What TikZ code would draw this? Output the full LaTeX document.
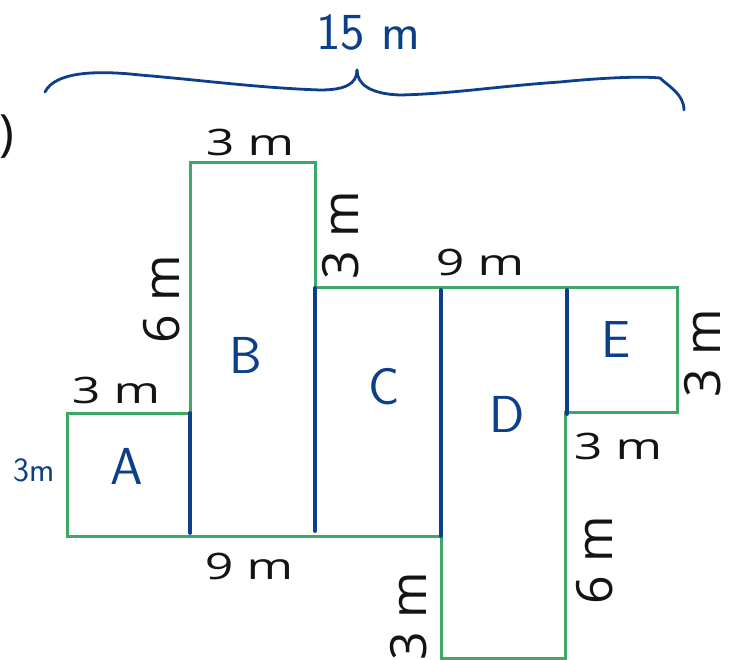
\documentclass[tikz,border=0pt]{standalone}
\usepackage{fontspec}
\setmainfont{Open Sans}
\definecolor{fgreen}{HTML}{3DA868}
\definecolor{hblue}{HTML}{0B3F8A}
\begin{document}
\begin{tikzpicture}[x=1pt,y=-1pt,
  lab/.style={font=\fontsize{50}{50}\selectfont, text=black!92, inner sep=0pt},
  hand/.style={font=\sffamily\fontsize{52}{52}\selectfont, text=hblue, inner sep=0pt},
  outline/.style={draw=fgreen, line width=3pt, line join=miter},
  split/.style={draw=hblue, line width=3.8pt, line cap=round},
  brace/.style={draw=hblue, line width=2.8pt, line cap=round, line join=round}]
\useasboundingbox (0,0) rectangle (731,660);
% corners of the outline
\coordinate (p1) at (67,413);
\coordinate (p2) at (190,413);
\coordinate (p3) at (190,163);
\coordinate (p4) at (315,163);
\coordinate (p5) at (315,288);
\coordinate (p6) at (677,288);
\coordinate (p7) at (677,412);
\coordinate (p8) at (565,412);
\coordinate (p9) at (565,658);
\coordinate (p10) at (441,658);
\coordinate (p11) at (441,536);
\coordinate (p12) at (67,536);
\draw[outline] (p1) -- (p2) -- (p3) -- (p4) -- (p5) -- (p6) -- (p7) -- (p8) -- (p9) -- (p10) -- (p11) -- (p12) -- cycle;
% blue dividing lines
\coordinate (s1a) at (190,413); \coordinate (s1b) at (190,533);
\coordinate (s2a) at (315,288); \coordinate (s2b) at (315,531);
\coordinate (s3a) at (441,290); \coordinate (s3b) at (441,536);
\coordinate (s4a) at (567,290); \coordinate (s4b) at (567,414);
\draw[split] (s1a) -- (s1b);
\draw[split] (s2a) -- (s2b);
\draw[split] (s3a) -- (s3b);
\draw[split] (s4a) -- (s4b);
% printed labels
\node[lab] (par) at (7,137) {)};
\node[lab] (lB) at (250,142) {\scalebox{1}[0.73]{3 m}};
\node[lab, rotate=90] (lBr) at (341,235) {3 m};
\node[lab] (lCD) at (480,262) {\scalebox{1}[0.73]{9 m}};
\node[lab, rotate=90] (lBl) at (162,299) {6 m};
\node[lab] (lA) at (116,390) {\scalebox{1}[0.73]{3 m}};
\node[lab, rotate=90] (lE) at (703,353) {3 m};
\node[lab] (lEb) at (618,446) {\scalebox{1}[0.73]{3 m}};
\node[lab] (lbot) at (249,566) {\scalebox{1}[0.73]{9 m}};
\node[lab, rotate=90] (lDr) at (595,560) {6 m};
\node[lab, rotate=90] (lDl) at (409,616) {3 m};
% handwritten notes
\node[hand] (h15) at (368,32) {15 m};
\node[hand, font=\sffamily\fontsize{34}{34}\selectfont] (h3m) at (34,470) {3m};
\node[hand] (hA) at (127,466) {A};
\node[hand] (hB) at (246,355) {B};
\node[hand] (hC) at (384,387) {C};
\node[hand] (hD) at (507,414) {D};
\node[hand] (hE) at (616,340) {E};
% hand-drawn brace
\coordinate (bl) at (45,92);
\coordinate (bt) at (357,70);
\coordinate (br) at (684,110);
\draw[brace] (bl) .. controls (55,72) and (95,70) .. (140,75)
  .. controls (200,80) and (260,88) .. (320,90)
  .. controls (345,90) and (357,84) .. (bt);
\draw[brace] (bt) .. controls (357,84) and (370,94) .. (400,95)
  .. controls (450,94) and (500,86) .. (560,82)
  .. controls (600,78) and (640,76) .. (660,78)
  .. controls (668,86) and (684,94) .. (br);
\end{tikzpicture}
\end{document}
